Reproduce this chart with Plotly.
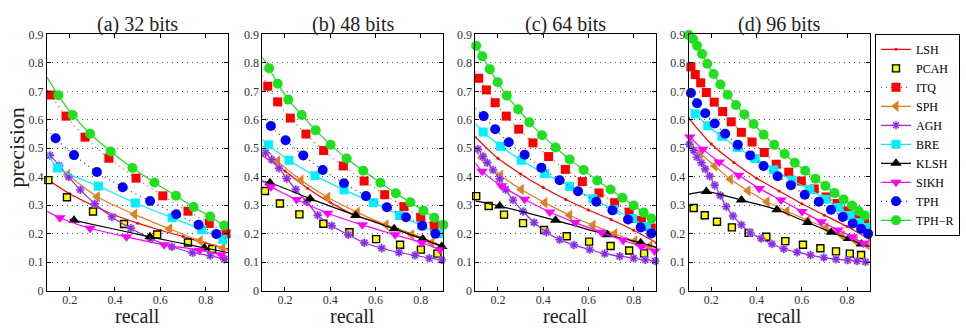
import plotly.graph_objects as go

# ---------------- data ----------------
PANEL_TITLES = ["(a) 32 bits", "(b) 48 bits", "(c) 64 bits", "(d) 96 bits"]
METHODS = ["LSH", "PCAH", "ITQ", "SPH", "AGH", "BRE", "KLSH", "SIKH", "TPH", "TPH\u2212R"]
X_TICKS = [0.2, 0.4, 0.6, 0.8]
X_TICK_TEXT = ["0.2", "0.4", "0.6", "0.8"]
Y_TICKS = [0, 0.1, 0.2, 0.3, 0.4, 0.5, 0.6, 0.7, 0.8, 0.9]
Y_TICK_TEXT = ["0", "0.1", "0.2", "0.3", "0.4", "0.5", "0.6", "0.7", "0.8", "0.9"]

# ---- (a) 32 bits: marker recall / precision, and line ends ----
R32 = {
    "LSH": [0.1, 0.2, 0.3, 0.4, 0.5, 0.6, 0.7, 0.8, 0.9],
    "PCAH": [0.106, 0.188, 0.303, 0.440, 0.586, 0.722, 0.829],
    "ITQ": [0.116, 0.184, 0.268, 0.373, 0.493, 0.611, 0.722, 0.816, 0.890],
    "SPH": [0.191, 0.322, 0.486, 0.641, 0.776, 0.876],
    "AGH": [0.113, 0.154, 0.196, 0.247, 0.311, 0.386, 0.470, 0.557, 0.651, 0.742, 0.820, 0.882],
    "BRE": [0.147, 0.327, 0.490, 0.652, 0.783, 0.876],
    "KLSH": [0.219, 0.554, 0.794],
    "SIKH": [0.157, 0.290, 0.451, 0.617, 0.773, 0.868],
    "TPH": [0.138, 0.219, 0.320, 0.434, 0.555, 0.670, 0.769, 0.847],
    "TPH\u2212R": [0.150, 0.213, 0.290, 0.381, 0.477, 0.574, 0.669, 0.747, 0.820, 0.882],
}
P32 = {
    "LSH": [0.392, 0.340, 0.300, 0.265, 0.237, 0.212, 0.190, 0.167, 0.145],
    "PCAH": [0.388, 0.328, 0.278, 0.234, 0.197, 0.169, 0.146],
    "ITQ": [0.687, 0.613, 0.539, 0.465, 0.395, 0.333, 0.279, 0.236, 0.200],
    "SPH": [0.408, 0.330, 0.268, 0.217, 0.175, 0.150],
    "AGH": [0.475, 0.439, 0.399, 0.354, 0.305, 0.259, 0.219, 0.183, 0.154, 0.133, 0.123, 0.110],
    "BRE": [0.431, 0.367, 0.308, 0.256, 0.214, 0.180],
    "KLSH": [0.247, 0.189, 0.150],
    "SIKH": [0.256, 0.219, 0.189, 0.161, 0.142, 0.126],
    "TPH": [0.535, 0.476, 0.417, 0.363, 0.315, 0.268, 0.231, 0.199],
    "TPH\u2212R": [0.686, 0.617, 0.551, 0.489, 0.431, 0.380, 0.333, 0.294, 0.260, 0.229],
}
START32 = {"ITQ": (0.1, 0.705), "SPH": (0.18, 0.415), "AGH": (0.1, 0.481), "BRE": (0.1, 0.487),
           "KLSH": (0.2, 0.250), "SIKH": (0.1, 0.279), "TPH": (0.1, 0.566), "TPH\u2212R": (0.1, 0.749)}
END32 = {"ITQ": (0.9, 0.195), "SPH": (0.9, 0.143), "AGH": (0.9, 0.108), "BRE": (0.9, 0.170),
         "KLSH": (0.9, 0.133), "SIKH": (0.9, 0.120), "TPH": (0.9, 0.180), "TPH\u2212R": (0.9, 0.222)}

# ---- (b) 48 bits ----
R48 = {
    "LSH": [0.1, 0.2, 0.3, 0.4, 0.5, 0.6, 0.7, 0.8, 0.9],
    "PCAH": [0.112, 0.178, 0.264, 0.370, 0.485, 0.603, 0.709, 0.801, 0.874],
    "ITQ": [0.124, 0.168, 0.224, 0.293, 0.371, 0.458, 0.550, 0.641, 0.726, 0.800, 0.860],
    "SPH": [0.168, 0.271, 0.389, 0.520, 0.647, 0.760, 0.849],
    "AGH": [0.115, 0.141, 0.174, 0.208, 0.248, 0.296, 0.345, 0.407, 0.480, 0.551, 0.628, 0.704, 0.775, 0.838, 0.893],
    "BRE": [0.127, 0.218, 0.333, 0.461, 0.591, 0.707, 0.805, 0.881],
    "KLSH": [0.134, 0.311, 0.513, 0.683, 0.809, 0.893],
    "SIKH": [0.138, 0.252, 0.389, 0.542, 0.687, 0.805, 0.885],
    "TPH": [0.138, 0.203, 0.281, 0.367, 0.461, 0.558, 0.651, 0.735, 0.807, 0.865],
    "TPH\u2212R": [0.130, 0.168, 0.215, 0.274, 0.336, 0.402, 0.473, 0.546, 0.622, 0.690, 0.754, 0.812, 0.860, 0.900],
}
P48 = {
    "LSH": [0.475, 0.420, 0.360, 0.310, 0.268, 0.242, 0.216, 0.187, 0.155],
    "PCAH": [0.350, 0.306, 0.268, 0.235, 0.205, 0.181, 0.161, 0.144, 0.130],
    "ITQ": [0.718, 0.663, 0.606, 0.550, 0.492, 0.438, 0.385, 0.337, 0.295, 0.258, 0.228],
    "SPH": [0.455, 0.388, 0.328, 0.275, 0.231, 0.196, 0.168],
    "AGH": [0.484, 0.460, 0.430, 0.394, 0.355, 0.312, 0.265, 0.228, 0.196, 0.168, 0.149, 0.134, 0.124, 0.114, 0.108],
    "BRE": [0.512, 0.458, 0.404, 0.354, 0.309, 0.264, 0.228, 0.200],
    "KLSH": [0.379, 0.323, 0.264, 0.217, 0.181, 0.155],
    "SIKH": [0.365, 0.320, 0.272, 0.231, 0.196, 0.168, 0.144],
    "TPH": [0.578, 0.528, 0.475, 0.424, 0.377, 0.332, 0.293, 0.258, 0.228, 0.200],
    "TPH\u2212R": [0.781, 0.727, 0.671, 0.617, 0.563, 0.512, 0.464, 0.421, 0.379, 0.342, 0.310, 0.281, 0.256, 0.231],
}
START48 = {"ITQ": (0.1, 0.755), "SPH": (0.1, 0.510), "AGH": (0.1, 0.490), "BRE": (0.1, 0.531),
           "KLSH": (0.1, 0.383), "SIKH": (0.1, 0.388), "TPH": (0.1, 0.615), "TPH\u2212R": (0.1, 0.820)}
END48 = {"ITQ": (0.9, 0.210), "SPH": (0.9, 0.152), "AGH": (0.9, 0.107), "BRE": (0.9, 0.188),
         "KLSH": (0.9, 0.152), "SIKH": (0.9, 0.140), "TPH": (0.9, 0.190)}

# ---- (c) 64 bits ----
R64 = {
    "LSH": [0.1, 0.2, 0.3, 0.4, 0.5, 0.6, 0.7, 0.8, 0.9],
    "PCAH": [0.104, 0.159, 0.227, 0.311, 0.404, 0.504, 0.603, 0.698, 0.780, 0.846],
    "ITQ": [0.115, 0.149, 0.188, 0.237, 0.292, 0.355, 0.424, 0.498, 0.573, 0.647, 0.716, 0.780, 0.834, 0.878],
    "SPH": [0.130, 0.212, 0.303, 0.407, 0.517, 0.620, 0.716, 0.805, 0.871],
    "AGH": [0.112, 0.134, 0.153, 0.178, 0.208, 0.234, 0.267, 0.311, 0.360, 0.414, 0.473, 0.536, 0.606, 0.672,
            0.738, 0.800, 0.851, 0.895],
    "BRE": [0.135, 0.212, 0.303, 0.407, 0.517, 0.620, 0.712, 0.794, 0.856],
    "KLSH": [0.208, 0.455, 0.684, 0.831],
    "SIKH": [0.130, 0.215, 0.318, 0.429, 0.542, 0.657, 0.753, 0.834, 0.893],
    "TPH": [0.137, 0.188, 0.248, 0.318, 0.392, 0.473, 0.554, 0.635, 0.706, 0.775, 0.831, 0.878],
    "TPH\u2212R": [0.104, 0.131, 0.164, 0.199, 0.239, 0.289, 0.339, 0.395, 0.455, 0.517, 0.579, 0.639, 0.698,
                   0.750, 0.800, 0.844, 0.878],
}
P64 = {
    "LSH": [0.540, 0.465, 0.410, 0.362, 0.320, 0.283, 0.250, 0.212, 0.168],
    "PCAH": [0.332, 0.297, 0.267, 0.237, 0.213, 0.191, 0.172, 0.157, 0.141, 0.131],
    "ITQ": [0.746, 0.705, 0.660, 0.613, 0.567, 0.519, 0.471, 0.426, 0.383, 0.343, 0.309, 0.276, 0.247, 0.220],
    "SPH": [0.467, 0.405, 0.355, 0.309, 0.265, 0.230, 0.200, 0.174, 0.157],
    "AGH": [0.497, 0.471, 0.449, 0.424, 0.393, 0.355, 0.318, 0.278, 0.239, 0.205, 0.179, 0.160, 0.144, 0.130,
            0.121, 0.114, 0.108, 0.104],
    "BRE": [0.557, 0.507, 0.458, 0.411, 0.366, 0.323, 0.285, 0.253, 0.225],
    "KLSH": [0.297, 0.247, 0.196, 0.168],
    "SIKH": [0.419, 0.368, 0.321, 0.276, 0.239, 0.205, 0.177, 0.155, 0.139],
    "TPH": [0.613, 0.567, 0.521, 0.477, 0.432, 0.388, 0.349, 0.312, 0.282, 0.250, 0.222, 0.201],
    "TPH\u2212R": [0.860, 0.823, 0.778, 0.732, 0.685, 0.637, 0.591, 0.546, 0.503, 0.461, 0.424, 0.387, 0.355,
                   0.326, 0.299, 0.274, 0.253],
}
START64 = {"ITQ": (0.1, 0.770), "SPH": (0.1, 0.490), "AGH": (0.1, 0.505), "BRE": (0.1, 0.587),
           "KLSH": (0.1, 0.315), "SIKH": (0.1, 0.449), "TPH": (0.1, 0.640), "TPH\u2212R": (0.1, 0.865)}
END64 = {"ITQ": (0.9, 0.210), "SPH": (0.9, 0.150), "AGH": (0.9, 0.103), "BRE": (0.9, 0.210),
         "KLSH": (0.9, 0.152), "SIKH": (0.9, 0.137), "TPH": (0.9, 0.190), "TPH\u2212R": (0.9, 0.245)}

# ---- (d) 96 bits ----
R96 = {
    "LSH": [0.1, 0.2, 0.3, 0.4, 0.5, 0.6, 0.7, 0.8, 0.9],
    "PCAH": [0.122, 0.171, 0.225, 0.291, 0.365, 0.443, 0.527, 0.605, 0.682, 0.751, 0.812, 0.862],
    "ITQ": [0.110, 0.129, 0.153, 0.178, 0.213, 0.250, 0.288, 0.333, 0.380, 0.434, 0.487, 0.542, 0.598, 0.655,
            0.707, 0.756, 0.803, 0.844, 0.878],
    "SPH": [0.151, 0.215, 0.284, 0.362, 0.446, 0.534, 0.627, 0.707, 0.778, 0.836, 0.888],
    "AGH": [0.103, 0.122, 0.137, 0.156, 0.173, 0.193, 0.215, 0.240, 0.266, 0.296, 0.333, 0.372, 0.420, 0.468,
            0.520, 0.579, 0.638, 0.697, 0.751, 0.803, 0.844, 0.881],
    "BRE": [0.129, 0.184, 0.247, 0.314, 0.394, 0.476, 0.557, 0.635, 0.704, 0.763, 0.814, 0.856, 0.888],
    "KLSH": [0.178, 0.333, 0.490, 0.626, 0.730, 0.807, 0.863],
    "SIKH": [0.105, 0.162, 0.235, 0.321, 0.412, 0.508, 0.601, 0.686, 0.760, 0.822, 0.873],
    "TPH": [0.110, 0.137, 0.173, 0.215, 0.261, 0.317, 0.372, 0.431, 0.493, 0.552, 0.613, 0.675, 0.729, 0.781,
            0.825, 0.862, 0.893],
    "TPH\u2212R": [0.100, 0.119, 0.137, 0.159, 0.182, 0.210, 0.240, 0.272, 0.309, 0.346, 0.387, 0.431, 0.478,
                   0.524, 0.569, 0.615, 0.660, 0.704, 0.745, 0.785, 0.822, 0.851, 0.878],
}
P96 = {
    "LSH": [0.605, 0.515, 0.450, 0.395, 0.350, 0.305, 0.265, 0.225, 0.180],
    "PCAH": [0.290, 0.265, 0.242, 0.222, 0.203, 0.189, 0.174, 0.161, 0.149, 0.138, 0.130, 0.125],
    "ITQ": [0.786, 0.759, 0.730, 0.696, 0.662, 0.629, 0.593, 0.556, 0.522, 0.485, 0.444, 0.416, 0.385, 0.357,
            0.329, 0.306, 0.280, 0.256, 0.236],
    "SPH": [0.483, 0.438, 0.391, 0.351, 0.312, 0.279, 0.247, 0.220, 0.194, 0.175, 0.161],
    "AGH": [0.514, 0.492, 0.469, 0.449, 0.427, 0.402, 0.370, 0.334, 0.295, 0.262, 0.231, 0.203, 0.183, 0.164,
            0.147, 0.135, 0.125, 0.116, 0.110, 0.107, 0.104, 0.101],
    "BRE": [0.621, 0.579, 0.542, 0.503, 0.464, 0.424, 0.388, 0.355, 0.321, 0.292, 0.264, 0.239, 0.222],
    "KLSH": [0.348, 0.318, 0.284, 0.239, 0.205, 0.183, 0.164],
    "SIKH": [0.540, 0.497, 0.452, 0.405, 0.359, 0.318, 0.278, 0.242, 0.213, 0.189, 0.166],
    "TPH": [0.694, 0.658, 0.623, 0.587, 0.551, 0.512, 0.475, 0.438, 0.402, 0.370, 0.337, 0.312, 0.284, 0.259,
            0.236, 0.217, 0.200],
    "TPH\u2212R": [0.898, 0.884, 0.860, 0.831, 0.797, 0.761, 0.724, 0.688, 0.652, 0.619, 0.585, 0.548, 0.512,
                   0.480, 0.449, 0.421, 0.393, 0.368, 0.343, 0.320, 0.299, 0.280, 0.264],
}
START96 = {"ITQ": (0.1, 0.800), "SPH": (0.1, 0.530), "AGH": (0.1, 0.520), "BRE": (0.1, 0.643),
           "KLSH": (0.1, 0.338), "SIKH": (0.1, 0.545), "TPH": (0.1, 0.705)}
END96 = {"ITQ": (0.9, 0.225), "SPH": (0.9, 0.155), "AGH": (0.9, 0.100), "BRE": (0.9, 0.215),
         "KLSH": (0.9, 0.155), "SIKH": (0.9, 0.160), "TPH": (0.9, 0.197), "TPH\u2212R": (0.9, 0.255)}

PANEL_DATA = [(R32, P32, START32, END32), (R48, P48, START48, END48),
              (R64, P64, START64, END64), (R96, P96, START96, END96)]

# ---------------- styles ----------------
SERIF = "Liberation Serif"
STYLE = {
    "LSH": dict(color="#ff0000", dash="solid", symbol="circle", size=3, mline=None, mfill="#ff0000"),
    "PCAH": dict(color=None, dash=None, symbol="square", size=7, mline="#000000", mfill="#ffff00"),
    "ITQ": dict(color="#ff3030", dash="1px,4px", symbol="square", size=9, mline=None, mfill="#ff0000"),
    "SPH": dict(color="#dc8024", dash="solid", symbol="triangle-left", size=10, mline=None, mfill="#dc8024"),
    "AGH": dict(color="#8a2be2", dash="solid", symbol="asterisk-open", size=7, mline="#7a22d8", mfill="#8a2be2"),
    "BRE": dict(color="#00f0ff", dash="solid", symbol="square", size=9, mline=None, mfill="#00f0ff"),
    "KLSH": dict(color="#000000", dash="solid", symbol="triangle-up", size=10, mline=None, mfill="#000000"),
    "SIKH": dict(color="#ff00ff", dash="solid", symbol="triangle-down", size=10, mline=None, mfill="#ff00ff"),
    "TPH": dict(color="#2020ff", dash="1px,4px", symbol="circle", size=10, mline=None, mfill="#0000ff"),
    "TPH\u2212R": dict(color="#1ee01e", dash="solid", symbol="circle", size=10, mline=None, mfill="#1ee01e"),
}


def marker_of(st):
    m = dict(symbol=st["symbol"], size=st["size"], color=st["mfill"])
    if st["mline"]:
        m["line"] = dict(color=st["mline"], width=1.4)
    else:
        m["line"] = dict(width=0)
    return m


# page geometry (the body margin is removed by the post script below)
W, H = 966, 335


def fx(px):
    return px / W


def fy(py):
    return 1 - py / H


fig = go.Figure()

X_DOMAINS = [(fx(47.0), fx(228.3)), (fx(262.3), fx(443.3)), (fx(475.3), fx(656.3)), (fx(688.7), fx(869.7))]
Y_DOMAIN = (fy(296.0), fy(28.6))

for i, (R, P, START, END) in enumerate(PANEL_DATA):
    xa = "x" if i == 0 else "x%d" % (i + 1)
    ya = "y" if i == 0 else "y%d" % (i + 1)
    for m in METHODS:
        st = STYLE[m]
        rx, py = R[m], P[m]
        if m == "LSH":
            fig.add_trace(go.Scatter(x=rx, y=py, mode="lines+markers", xaxis=xa, yaxis=ya,
                                     line=dict(color=st["color"], width=1.2, shape="spline", smoothing=0.8),
                                     marker=marker_of(st), showlegend=False, hoverinfo="skip"))
            continue
        if st["color"] is not None:
            cx, cy = list(rx), list(py)
            if m in START and START[m][0] < cx[0]:
                cx = [START[m][0]] + cx
                cy = [START[m][1]] + cy
            if m in END and END[m][0] > cx[-1]:
                cx = cx + [END[m][0]]
                cy = cy + [END[m][1]]
            fig.add_trace(go.Scatter(x=cx, y=cy, mode="lines", xaxis=xa, yaxis=ya,
                                     line=dict(color=st["color"], width=1.2, dash=st["dash"],
                                               shape="spline", smoothing=0.8),
                                     showlegend=False, hoverinfo="skip"))
        if m == "AGH":
            # soft lavender halo under the asterisks
            fig.add_trace(go.Scatter(x=rx, y=py, mode="markers", xaxis=xa, yaxis=ya, cliponaxis=False,
                                     marker=dict(symbol="circle", size=8, color="#c8a6f2", opacity=0.8,
                                                 line=dict(width=0)),
                                     showlegend=False, hoverinfo="skip"))
        fig.add_trace(go.Scatter(x=rx, y=py, mode="markers", xaxis=xa, yaxis=ya, cliponaxis=False,
                                 marker=marker_of(st), showlegend=False, hoverinfo="skip"))

# legend entries
for m in METHODS:
    st = STYLE[m]
    if st["color"] is None:
        fig.add_trace(go.Scatter(x=[None], y=[None], mode="markers", name=m, marker=marker_of(st)))
    else:
        fig.add_trace(go.Scatter(x=[None], y=[None], mode="lines+markers", name=m,
                                 line=dict(color=st["color"], width=1.2, dash=st["dash"]),
                                 marker=marker_of(st)))

tickfont = dict(family=SERIF, size=12, color="#333333")
layout = dict(
    width=W, height=H, margin=dict(l=0, r=0, t=0, b=0),
    paper_bgcolor="white", plot_bgcolor="white",
    showlegend=True,
    legend=dict(x=fx(875), y=fy(28), xanchor="left", yanchor="top",
                bordercolor="black", borderwidth=1, bgcolor="white",
                font=dict(family=SERIF, size=12, color="black"), tracegroupgap=0, itemwidth=30),
    annotations=[],
)
for i in range(4):
    sx = "" if i == 0 else str(i + 1)
    layout["xaxis" + sx] = dict(domain=list(X_DOMAINS[i]), anchor="y" + sx, range=[0.1, 0.9],
                                tickvals=X_TICKS, ticktext=X_TICK_TEXT, showgrid=False, zeroline=False,
                                showline=True, linecolor="black", linewidth=1, mirror="ticks",
                                ticks="inside", ticklen=4, tickcolor="black", tickfont=tickfont,
                                ticklabelstandoff=-2, fixedrange=True)
    layout["yaxis" + sx] = dict(domain=list(Y_DOMAIN), anchor="x" + sx, range=[0, 0.9],
                                tickvals=Y_TICKS, ticktext=Y_TICK_TEXT, showgrid=True,
                                gridcolor="#555555", griddash="1px,4px", gridwidth=1, zeroline=False,
                                showline=True, linecolor="black", linewidth=1, mirror="ticks",
                                ticks="inside", ticklen=4, tickcolor="black", tickfont=tickfont,
                                fixedrange=True)
    cx = (X_DOMAINS[i][0] + X_DOMAINS[i][1]) / 2
    layout["annotations"].append(dict(text=PANEL_TITLES[i], x=cx, y=fy(18), xref="paper", yref="paper",
                                      xanchor="center", yanchor="middle", showarrow=False,
                                      font=dict(family=SERIF, size=20, color="#222222")))
    layout["annotations"].append(dict(text="recall", x=cx, y=fy(322), xref="paper", yref="paper",
                                      xanchor="center", yanchor="middle", showarrow=False,
                                      font=dict(family=SERIF, size=20, color="#222222")))
layout["annotations"].append(dict(text="precision", x=fx(17), y=fy(147), xref="paper", yref="paper",
                                  xanchor="center", yanchor="middle", textangle=-90, showarrow=False,
                                  font=dict(family=SERIF, size=22, color="#222222")))

fig.update_layout(**layout)
fig.write_html("out.html", config={"displayModeBar": False},
               post_script="document.body.style.margin='0px';")
